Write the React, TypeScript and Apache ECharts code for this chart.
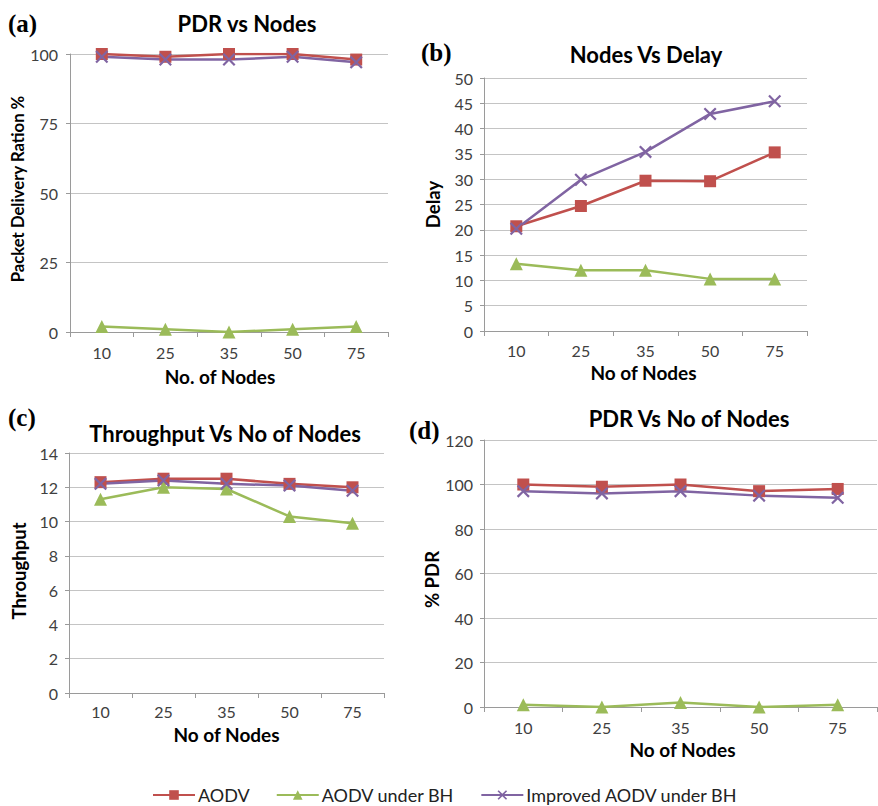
import React, { useEffect, useRef } from "react";
import * as echarts from "echarts";

const categories = ["10", "25", "35", "50", "75"];
const seriesNames = ["AODV", "AODV under BH", "Improved AODV under BH"];

const pdrA_aodv = [100, 99, 100, 100, 98];
const pdrA_bh = [2, 1, 0, 1, 2];
const pdrA_imp = [99, 98, 98, 99, 97];

const delay_aodv = [20.7, 24.7, 29.7, 29.6, 35.3];
const delay_bh = [13.3, 12.0, 12.0, 10.3, 10.3];
const delay_imp = [20.2, 29.9, 35.4, 42.9, 45.4];

const thr_aodv = [12.3, 12.5, 12.5, 12.2, 12.0];
const thr_bh = [11.3, 12.0, 11.9, 10.3, 9.9];
const thr_imp = [12.2, 12.4, 12.2, 12.1, 11.8];

const pdrD_aodv = [100, 99, 100, 97, 98];
const pdrD_bh = [1, 0, 2, 0, 1];
const pdrD_imp = [97, 96, 97, 95, 94];

const RED = "#C0504D";
const GREEN = "#9BBB59";
const PURPLE = "#8064A2";
const FONT = "Lato, 'Open Sans', sans-serif";
const XPATH =
  "path://M0,1.2L1.2,0L5,3.8L8.8,0L10,1.2L6.2,5L10,8.8L8.8,10L5,6.2L1.2,10L0,8.8L3.8,5Z";

export default function App() {
  const ref = useRef<HTMLDivElement>(null);
  useEffect(() => {
    if (!ref.current) return;
    const chart = echarts.init(ref.current, undefined, { renderer: "svg" });

    const grids = [
      { left: 70, top: 54, width: 318, height: 278 },
      { left: 484, top: 78, width: 323, height: 253 },
      { left: 69, top: 453, width: 315, height: 240 },
      { left: 484, top: 440, width: 393, height: 267 },
    ];
    const yCfg = [
      { min: 0, max: 100, interval: 25, name: "Packet Delivery Ration %" },
      { min: 0, max: 50, interval: 5, name: "Delay" },
      { min: 0, max: 14, interval: 2, name: "Throughput" },
      { min: 0, max: 120, interval: 20, name: "% PDR" },
    ];
    const xNames = ["No. of Nodes", "No of Nodes", "No of Nodes", "No of Nodes"];
    const xLabelMargins = [12, 11, 10, 12];
    const yLabelMargins = [12, 11, 11, 11];
    const xNameGaps = [35, 32, 32, 33];
    const xNamePads = [[0, 18, 0, 0], [0, 4, 0, 0], [0, 0, 0, 0], [0, 0, 0, 4]];
    const yNameGaps = [44, 42, 41, 42];
    const yNameSizes = [16.7, 18.5, 18.5, 18.5];
    const yNamePads = [[0, 0, 0, 8], [0, 0, 0, 0], [0, 0, 0, 4], [0, 12, 0, 0]];
    const data = [
      [pdrA_aodv, pdrA_bh, pdrA_imp],
      [delay_aodv, delay_bh, delay_imp],
      [thr_aodv, thr_bh, thr_imp],
      [pdrD_aodv, pdrD_bh, pdrD_imp],
    ];
    const titles = [
      { text: "PDR vs Nodes", x: 247, y: 23 },
      { text: "Nodes Vs Delay", x: 646, y: 54 },
      { text: "Throughput Vs No of Nodes", x: 225, y: 433 },
      { text: "PDR Vs No of Nodes", x: 689, y: 418 },
    ];
    const panelLabels = [
      { text: "(a)", x: 8, y: 23 },
      { text: "(b)", x: 421, y: 52 },
      { text: "(c)", x: 8, y: 417 },
      { text: "(d)", x: 409, y: 430 },
    ];

    const symbolCfg = [
      { symbol: "rect", size: 12, color: RED },
      { symbol: "triangle", size: 13, color: GREEN },
      { symbol: XPATH, size: 13, color: PURPLE },
    ];

    const series: any[] = [];
    data.forEach((set, gi) => {
      set.forEach((vals, si) => {
        const s = symbolCfg[si];
        series.push({
          type: "line",
          name: seriesNames[si],
          xAxisIndex: gi,
          yAxisIndex: gi,
          data: vals,
          symbol: s.symbol,
          symbolSize: s.size,
          showSymbol: true,
          lineStyle: { color: s.color, width: 2.5 },
          itemStyle: { color: s.color },
          emphasis: { disabled: true },
        });
      });
    });

    const option: any = {
      animation: false,
      backgroundColor: "#ffffff",
      textStyle: { fontFamily: FONT },
      grid: grids.map((g) => ({ ...g, containLabel: false })),
      xAxis: grids.map((_, i) => ({
        type: "category",
        gridIndex: i,
        data: categories,
        boundaryGap: true,
        name: xNames[i],
        nameLocation: "middle",
        nameGap: xNameGaps[i],
        nameTextStyle: {
          fontSize: 19,
          fontWeight: "bold",
          color: "#000",
          fontFamily: FONT,
          padding: xNamePads[i],
        },
        axisLine: { show: true, lineStyle: { color: "#9a9a9a", width: 1 } },
        axisTick: { show: true, length: 5, lineStyle: { color: "#9a9a9a" } },
        axisLabel: { fontSize: 16, color: "#404040", margin: xLabelMargins[i], fontFamily: FONT },
        splitLine: { show: false },
      })),
      yAxis: grids.map((_, i) => ({
        type: "value",
        gridIndex: i,
        min: yCfg[i].min,
        max: yCfg[i].max,
        interval: yCfg[i].interval,
        name: yCfg[i].name,
        nameLocation: "middle",
        nameGap: yNameGaps[i],
        nameTextStyle: {
          fontSize: yNameSizes[i],
          fontWeight: "bold",
          color: "#000",
          fontFamily: FONT,
          padding: yNamePads[i],
        },
        axisLine: { show: true, lineStyle: { color: "#9a9a9a", width: 1 } },
        axisTick: { show: true, length: 4, lineStyle: { color: "#9a9a9a" } },
        axisLabel: { fontSize: 16, color: "#404040", margin: yLabelMargins[i], fontFamily: FONT },
        splitLine: { show: true, lineStyle: { color: "#c4c4c4", width: 1 } },
      })),
      legend: {
        data: seriesNames,
        left: 152,
        top: 786,
        itemWidth: 42,
        itemHeight: 12,
        itemGap: 26,
        padding: 0,
        textStyle: {
          fontSize: 18,
          lineHeight: 18,
          color: "#222",
          fontFamily: FONT,
          padding: [0, 0, 0, -2],
        },
      },
      graphic: [
        ...titles.map((t) => ({
          type: "text",
          x: t.x,
          y: t.y,
          style: {
            text: t.text,
            fontSize: 22,
            fontWeight: "bold",
            fontFamily: FONT,
            fill: "#000",
            textAlign: "center",
            textVerticalAlign: "middle",
          },
        })),
        ...panelLabels.map((t) => ({
          type: "text",
          x: t.x,
          y: t.y,
          style: {
            text: t.text,
            fontSize: 25,
            fontWeight: "bold",
            fontFamily: "'Liberation Serif', 'DejaVu Serif', serif",
            fill: "#000",
            textAlign: "left",
            textVerticalAlign: "middle",
          },
        })),
      ],
      series,
    };
    chart.setOption(option);
    return () => chart.dispose();
  }, []);

  return (
    <div
      ref={ref}
      style={{ position: "absolute", left: 0, top: 0, width: 878, height: 806, background: "#fff" }}
    />
  );
}
